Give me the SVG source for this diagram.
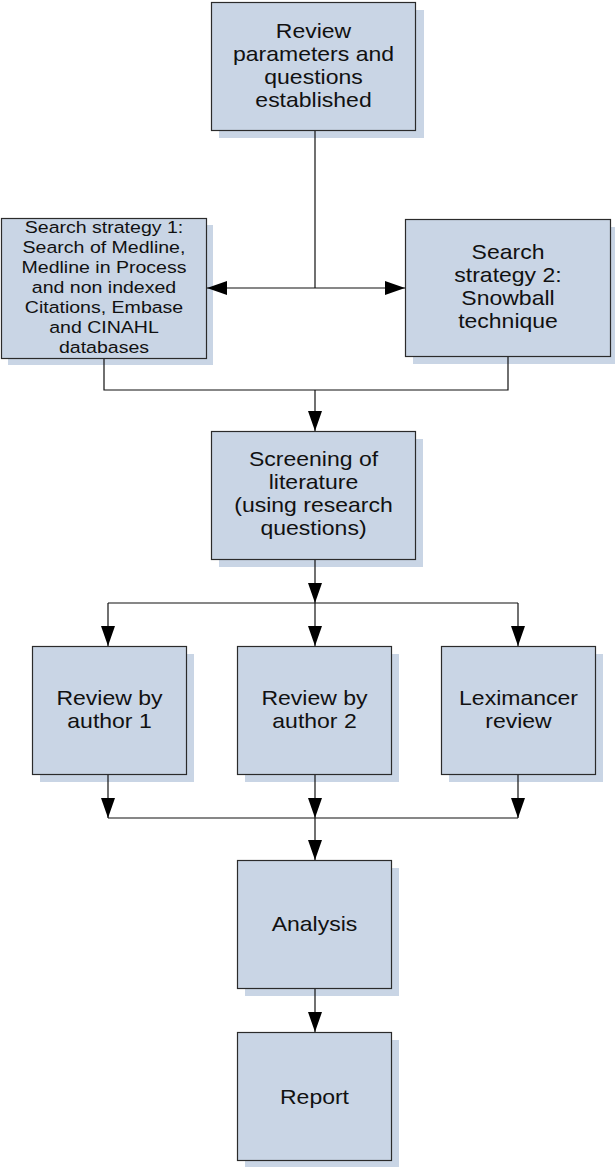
<svg xmlns="http://www.w3.org/2000/svg" width="615" height="1167" viewBox="0 0 615 1167">
<defs>
<style>
.box{fill:#c9d5e5;stroke:#2b2b2b;stroke-width:1.2}
.sh{fill:#c9d5e5}
.t{font-family:"Liberation Sans",Arial,sans-serif;font-size:20px;fill:#111;text-anchor:middle}
.ts{font-size:17px}
.c{fill:none;stroke:#111;stroke-width:1.2}
</style>
<marker id="ah" markerWidth="20" markerHeight="14" refX="20" refY="7" orient="auto" markerUnits="userSpaceOnUse">
<path d="M0,0 L20,7 L0,14 Z" fill="#000"/>
</marker>
</defs>
<rect width="615" height="1167" fill="#fff"/>
<g id="n1">
<rect class="sh" x="219" y="10" width="205" height="128"/>
<rect class="box" x="211.5" y="2.5" width="204" height="128"/>
<g transform="translate(313.5,0) scale(1.15,1)">
<text class="t" x="0" y="38">Review</text>
<text class="t" x="0" y="61">parameters and</text>
<text class="t" x="0" y="84">questions</text>
<text class="t" x="0" y="107">established</text>
</g>
</g>
<g id="n2">
<rect class="sh" x="8" y="225" width="205" height="140"/>
<rect class="box" x="1.5" y="218.5" width="205" height="140"/>
<g transform="translate(104,0) scale(1.15,1)">
<text class="t ts" x="0" y="233">Search strategy 1:</text>
<text class="t ts" x="0" y="253">Search of Medline,</text>
<text class="t ts" x="0" y="273.5">Medline in Process</text>
<text class="t ts" x="0" y="293.5">and non indexed</text>
<text class="t ts" x="0" y="313">Citations, Embase</text>
<text class="t ts" x="0" y="333">and CINAHL</text>
<text class="t ts" x="0" y="353">databases</text>
</g>
</g>
<g id="n3">
<rect class="sh" x="413" y="227" width="205" height="137"/>
<rect class="box" x="405.5" y="219.5" width="205" height="137"/>
<g transform="translate(508,0) scale(1.15,1)">
<text class="t" x="0" y="259">Search</text>
<text class="t" x="0" y="282">strategy 2:</text>
<text class="t" x="0" y="305">Snowball</text>
<text class="t" x="0" y="328">technique</text>
</g>
</g>
<g id="n4">
<rect class="sh" x="219" y="439" width="204" height="128"/>
<rect class="box" x="211.5" y="431.5" width="204" height="128"/>
<g transform="translate(313.5,0) scale(1.15,1)">
<text class="t" x="0" y="466">Screening of</text>
<text class="t" x="0" y="489">literature</text>
<text class="t" x="0" y="512">(using research</text>
<text class="t" x="0" y="535">questions)</text>
</g>
</g>
<g id="n5">
<rect class="sh" x="40" y="654" width="154" height="128"/>
<rect class="box" x="32.5" y="646.5" width="154" height="128"/>
<g transform="translate(109.5,0) scale(1.15,1)">
<text class="t" x="0" y="705">Review by</text>
<text class="t" x="0" y="728">author 1</text>
</g>
</g>
<g id="n6">
<rect class="sh" x="245" y="654" width="154" height="128"/>
<rect class="box" x="237.5" y="646.5" width="154" height="128"/>
<g transform="translate(314.5,0) scale(1.15,1)">
<text class="t" x="0" y="705">Review by</text>
<text class="t" x="0" y="728">author 2</text>
</g>
</g>
<g id="n7">
<rect class="sh" x="449" y="654" width="154" height="128"/>
<rect class="box" x="441.5" y="646.5" width="154" height="128"/>
<g transform="translate(518.5,0) scale(1.15,1)">
<text class="t" x="0" y="705">Leximancer</text>
<text class="t" x="0" y="728">review</text>
</g>
</g>
<g id="n8">
<rect class="sh" x="245" y="868" width="154" height="128"/>
<rect class="box" x="237.5" y="860.5" width="154" height="128"/>
<g transform="translate(314.5,0) scale(1.15,1)">
<text class="t" x="0" y="931">Analysis</text>
</g>
</g>
<g id="n9">
<rect class="sh" x="245" y="1040" width="154" height="128"/>
<rect class="box" x="237.5" y="1032.5" width="154" height="128"/>
<g transform="translate(314.5,0) scale(1.15,1)">
<text class="t" x="0" y="1104">Report</text>
</g>
</g>
<g id="connectors">
<path class="c" d="M315,131 V288"/>
<path class="c" d="M315,288 H207" marker-end="url(#ah)"/>
<path class="c" d="M315,288 H405" marker-end="url(#ah)"/>
<path class="c" d="M104,359 V390 H508 V357"/>
<path class="c" d="M315,390 V431" marker-end="url(#ah)"/>
<path class="c" d="M315,560 V603" marker-end="url(#ah)"/>
<path class="c" d="M108,603 H518"/>
<path class="c" d="M108,603 V646" marker-end="url(#ah)"/>
<path class="c" d="M315,603 V646" marker-end="url(#ah)"/>
<path class="c" d="M518,603 V646" marker-end="url(#ah)"/>
<path class="c" d="M108,775 V818" marker-end="url(#ah)"/>
<path class="c" d="M315,775 V818" marker-end="url(#ah)"/>
<path class="c" d="M518,775 V818" marker-end="url(#ah)"/>
<path class="c" d="M108,818 H518"/>
<path class="c" d="M315,818 V860" marker-end="url(#ah)"/>
<path class="c" d="M315,989 V1032" marker-end="url(#ah)"/>
</g>
</svg>
